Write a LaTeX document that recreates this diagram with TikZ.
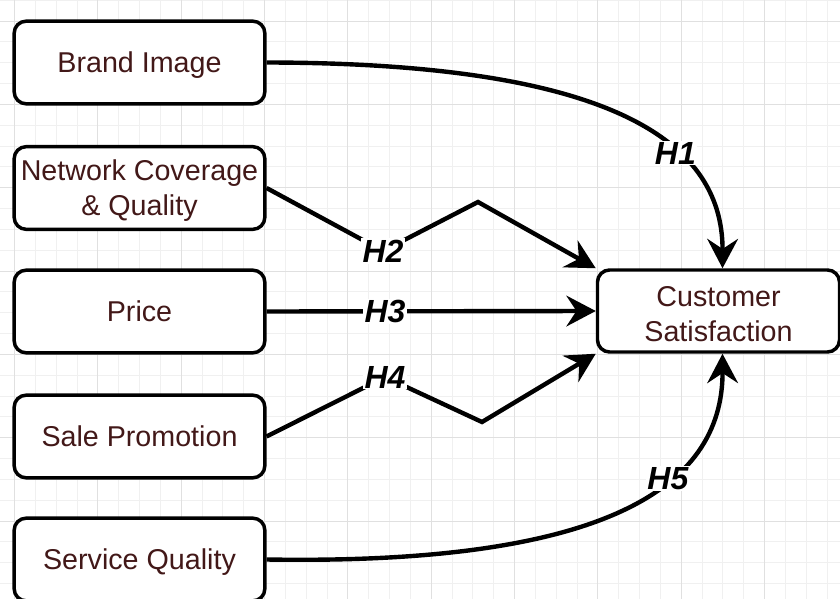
\documentclass[tikz,border=0pt]{standalone}
\usepackage{fontspec}
\setmainfont{Liberation Sans}
\usetikzlibrary{arrows.meta}
\definecolor{gridmajor}{HTML}{E0E0E0}
\definecolor{gridminor}{HTML}{F0F0F0}
\definecolor{boxtext}{HTML}{421818}
\begin{document}
\begin{tikzpicture}[x=0.75pt,y=-0.75pt,
  box/.style={draw=black, line width=2.6pt, rounded corners=9pt, fill=white,
    minimum width=188pt, minimum height=62pt, align=center, text=boxtext,
    inner sep=0pt, font=\fontsize{21.5}{26.3}\selectfont},
  lowtext/.style={text depth=0pt},
  link/.style={line width=3.3pt, -{Stealth[length=22pt,width=23pt,inset=7.5pt]}},
  hyp/.style={fill=white, inner sep=1pt, font=\fontsize{24}{28}\selectfont\bfseries\itshape}
]
% page and background grid
\useasboundingbox (0,0) rectangle (840,599);
\fill[white] (0,0) rectangle (840,599);
\foreach \i in {-1,...,40}
  \draw[gridminor, line width=0.6pt] ({14.5+20.833*\i},0) -- ({14.5+20.833*\i},599);
\foreach \j in {-1,...,28}
  \draw[gridminor, line width=0.6pt] (0,{21+20.833*\j}) -- (840,{21+20.833*\j});
\foreach \i in {0,...,9}
  \draw[gridmajor, line width=0.7pt] ({14.5+83.333*\i},0) -- ({14.5+83.333*\i},599);
\foreach \j in {0,...,6}
  \draw[gridmajor, line width=0.7pt] (0,{21+83.333*\j}) -- (840,{21+83.333*\j});

% factor boxes
\node[box, lowtext] (brand) at (139.5,62.5) {Brand Image};
\node[box, lowtext] (net)   at (139.5,188)  {Network Coverage\\\& Quality};
\node[box, lowtext] (price) at (139.5,311.5) {Price};
\node[box, lowtext] (sale)  at (139.5,436.5) {Sale Promotion};
\node[box, lowtext] (serv)  at (139.5,559.5) {Service Quality};
\node[box, lowtext, minimum width=181.5pt, minimum height=61.5pt] (cs) at (718.5,311)
  {\rule{0pt}{20pt}Customer\\Satisfaction};

% bend points of the zig-zag links
\coordinate (h2a) at (383,251);
\coordinate (h2b) at (478,202);
\coordinate (h4a) at (385,377);
\coordinate (h4b) at (482,422);

% hypotheses
\draw[link] (brand.east) .. controls (600,63) and (723,136) .. ([xshift=3pt]cs.north)
  node[hyp, pos=0.655] {H1};
\draw[link] (net.east) -- (h2a) -- (h2b) -- (cs.north west);
\node[hyp] at (h2a) {H2};
\draw[link] (price.east) -- (cs.west) node[hyp, pos=0.36] {H3};
\draw[link] (sale.east) -- (h4a) -- (h4b) -- (cs.south west);
\node[hyp] at (h4a) {H4};
\draw[link] (serv.east) .. controls (600,565) and (723,490) .. ([xshift=3pt]cs.south)
  node[hyp, pos=0.63] {H5};
\end{tikzpicture}
\end{document}
